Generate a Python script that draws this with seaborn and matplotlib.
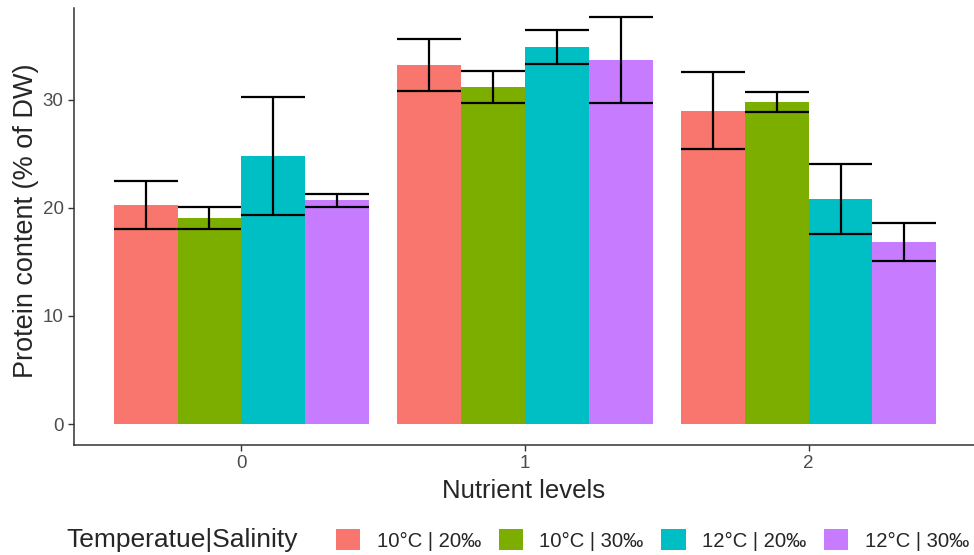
import numpy as np
import pandas as pd
import seaborn as sns
import matplotlib.pyplot as plt
from matplotlib.patches import Patch

niveles = ["0", "1", "2"]
grupos = ["10°C | 20‰", "10°C | 30‰", "12°C | 20‰", "12°C | 30‰"]
colores = ["#F8766D", "#7CAE00", "#00BFC4", "#C77CFF"]

# contenido de proteina por grupo (niveles 0, 1, 2)
prot_10_20 = [20.25, 33.2, 29.0]
prot_10_30 = [19.05, 31.2, 29.8]
prot_12_20 = [24.8, 34.9, 20.85]
prot_12_30 = [20.7, 33.65, 16.85]

# error (+/-) por grupo
err_10_20 = [2.2, 2.4, 3.55]
err_10_30 = [1.0, 1.47, 0.9]
err_12_20 = [5.45, 1.6, 3.25]
err_12_30 = [0.6, 3.98, 1.75]

medias = [prot_10_20, prot_10_30, prot_12_20, prot_12_30]
errores = [err_10_20, err_10_30, err_12_20, err_12_30]

df = pd.DataFrame({
    "nutriente": niveles * len(grupos),
    "grupo": np.repeat(grupos, len(niveles)),
    "proteina": np.concatenate(medias),
})

sns.set_style("ticks")
plt.rcParams["font.family"] = ["Liberation Sans", "DejaVu Sans"]

fig = plt.figure(figsize=(9.74, 5.55), dpi=100)
ax = fig.add_axes([74 / 974, 110 / 555, 900 / 974, 437 / 555])

sns.barplot(data=df, x="nutriente", y="proteina", hue="grupo", order=niveles,
            hue_order=grupos, palette=colores, saturation=1, width=0.9,
            errorbar=None, legend=False, linewidth=0, ax=ax)

# barras de error
for contenedor, errs in zip(ax.containers, errores):
    for barra, e in zip(contenedor, errs):
        x0 = barra.get_x()
        w = barra.get_width()
        h = barra.get_height()
        ax.vlines(x0 + w / 2, h - e, h + e, color="black", linewidth=1.6, zorder=3)
        ax.hlines([h - e, h + e], x0, x0 + w, color="black", linewidth=1.6, zorder=3)

ax.set_xlim(-0.59, 2.583)
ax.set_ylim(-1.94, 38.5)
ax.set_yticks([0, 10, 20, 30])
ax.set_xlabel("Nutrient levels", fontsize=18.5, labelpad=5)
ax.set_ylabel("Protein content (% of DW)", fontsize=19.5)
ax.yaxis.set_label_coords(-35 / 900, 0.5126)
ax.tick_params(axis="both", labelsize=13.5, labelcolor="#4D4D4D", color="#333333",
               length=4, width=1)
sns.despine(ax=ax)
for lado in ["left", "bottom"]:
    ax.spines[lado].set_color("#333333")
    ax.spines[lado].set_linewidth(1.1)

# leyenda abajo
fig.text(66 / 974, 1 - 540 / 555, "Temperatue|Salinity", fontsize=19,
         va="center", ha="left")
manijas = [Patch(facecolor=c, edgecolor="none") for c in colores]
fig.legend(manijas, grupos, loc="center left", bbox_to_anchor=(328 / 974, 1 - 540 / 555),
           ncol=4, frameon=False, fontsize=14.6, handlelength=1.2, handleheight=1.2,
           handletextpad=0.8, columnspacing=0.88, borderaxespad=0)

fig.savefig("out.png", dpi=100)
